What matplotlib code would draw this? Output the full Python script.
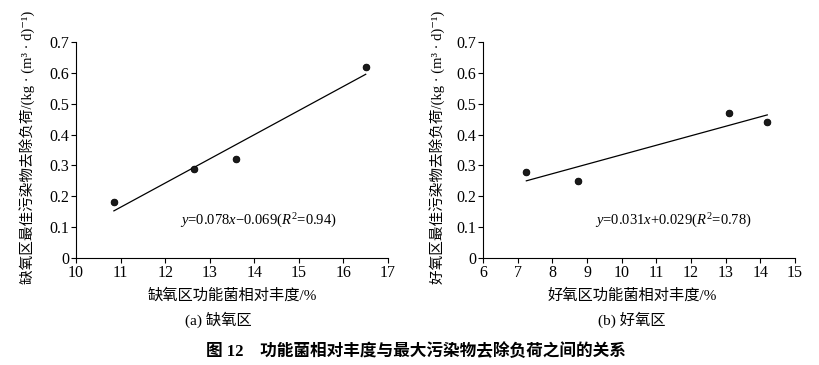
import numpy as np
import matplotlib
matplotlib.use("Agg")
import matplotlib.pyplot as plt

plt.rcParams['font.family'] = ['Liberation Serif', 'Noto Sans CJK SC', 'DejaVu Serif']
plt.rcParams['mathtext.fontset'] = 'custom'
plt.rcParams['mathtext.rm'] = 'Liberation Serif'
plt.rcParams['mathtext.it'] = 'Liberation Serif:italic'

# Data
anoxic_x = [10.85, 12.65, 13.6, 16.5]
anoxic_y = [0.18, 0.29, 0.32, 0.62]
aerobic_x = [7.25, 8.75, 13.1, 14.2]
aerobic_y = [0.28, 0.25, 0.47, 0.44]

anoxic_eq = r"$y$=0.078$x$−0.069($R^2$=0.94)"
aerobic_eq = r"$y$=0.031$x$+0.029($R^2$=0.78)"

anoxic_ylabel = "缺氧区最佳污染物去除负荷/(kg · (m³ · d)⁻¹)"
aerobic_ylabel = "好氧区最佳污染物去除负荷/(kg · (m³ · d)⁻¹)"
anoxic_xlabel = "缺氧区功能菌相对丰度/%"
aerobic_xlabel = "好氧区功能菌相对丰度/%"
anoxic_cap = "(a) 缺氧区"
aerobic_cap = "(b) 好氧区"
title = "图 12　功能菌相对丰度与最大污染物去除负荷之间的关系"

fig = plt.figure(figsize=(8.19, 3.65), dpi=100)
W, H = 819, 365

def make_axes(x0, x1, y0=258, y1=42):
    return fig.add_axes([x0 / W, 1 - y0 / H, (x1 - x0) / W, (y0 - y1) / H])

ax1 = make_axes(76, 388)
ax2 = make_axes(483, 795)

panels = [
    (ax1, anoxic_x, anoxic_y, (10, 17), np.arange(10, 18, 1), anoxic_eq, (14.1, 0.12),
     anoxic_ylabel, anoxic_xlabel, anoxic_cap, 232, 218, 27),
    (ax2, aerobic_x, aerobic_y, (6, 15), np.arange(6, 16, 1), aerobic_eq, (11.5, 0.12),
     aerobic_ylabel, aerobic_xlabel, aerobic_cap, 632, 632, 437),
]

for ax, xs, ys, xlim, xticks, eq, eqpos, ylab, xlab, cap, xlx, capx, ylx in panels:
    xs = np.array(xs); ys = np.array(ys)
    k, b = np.polyfit(xs, ys, 1)
    xl = np.array([xs.min(), xs.max()])
    ax.plot(xl, k * xl + b, color='black', lw=0.9)
    ax.plot(xs, ys, 'o', color='black', ms=4.8, mfc='#1a1a1a', mec='black', mew=0.6)
    ax.set_xlim(*xlim)
    ax.set_ylim(0, 0.7)
    ax.set_xticks(xticks)
    ax.set_yticks(np.arange(0, 0.71, 0.1))
    ax.set_yticklabels(['0'] + [f"{v:.1f}" for v in np.arange(0.1, 0.71, 0.1)])
    for s in ['top', 'right']:
        ax.spines[s].set_visible(False)
    for s in ['left', 'bottom']:
        ax.spines[s].set_linewidth(0.8)
    ax.tick_params(direction='out', length=3.5, width=0.8, labelsize=11.5, pad=1.5)
    ax.text(*eqpos, eq, ha='center', va='center', fontsize=10.5)
    fig.text(ylx / W, 1 - 147 / H, ylab, rotation=90, ha='center', va='center', fontsize=10.5)
    fig.text(xlx / W, 1 - 295 / H, xlab, ha='center', va='center', fontsize=11)
    fig.text(capx / W, 1 - 320 / H, cap, ha='center', va='center', fontsize=11)

fig.text(416 / W, 1 - 352 / H, title, ha='center', va='center', fontsize=12, fontweight='bold')

fig.savefig("out.png", dpi=100)
